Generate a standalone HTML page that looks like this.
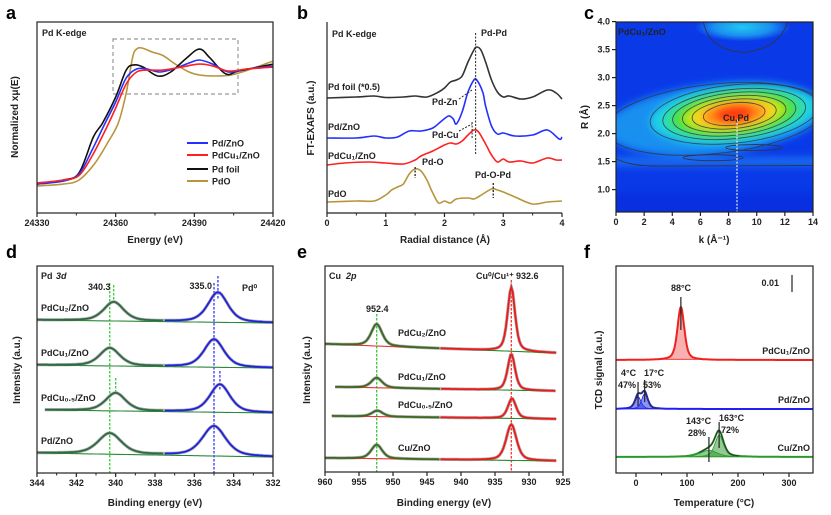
<!DOCTYPE html>
<html><head><meta charset="utf-8">
<style>
body{margin:0;background:#fff;}
svg{display:block;font-family:"Liberation Sans",Arial,sans-serif;font-weight:bold;}
.tk{font-size:9px;fill:#222;}
.tt{font-size:10px;fill:#222;}
.lb{font-size:9px;fill:#222;}
.pl{font-size:18px;fill:#000;}
</style></head>
<body>
<svg id="fig" width="831" height="515" viewBox="0 0 831 515">
<defs>
<filter id="blur" filterUnits="userSpaceOnUse" x="580" y="0" width="260" height="240" color-interpolation-filters="sRGB"><feGaussianBlur stdDeviation="4"/></filter>
<radialGradient id="topgrad"><stop offset="0" stop-color="#22c8f0"/><stop offset="0.6" stop-color="#1a90f0"/><stop offset="1" stop-color="#0a3ae8"/></radialGradient>
<clipPath id="clipc"><rect x="616" y="22" width="197" height="190"/></clipPath>
</defs>
<g id="pa"></g>
<g id="pb"></g>
<g id="pc"></g>
<g id="pd"></g>
<g id="pe"></g>
<g id="pf"></g>

<text class="pl" x="6" y="19">a</text>
<text class="pl" x="297" y="19">b</text>
<text class="pl" x="584" y="19">c</text>
<text class="pl" x="6" y="258">d</text>
<text class="pl" x="297" y="258">e</text>
<text class="pl" x="584" y="258">f</text>

<text class="tt" x="155" y="243" text-anchor="middle">Energy (eV)</text>
<text class="tt" transform="translate(18,117) rotate(-90)" text-anchor="middle">Normalized xμ(E)</text>
<text class="tt" x="445" y="243" text-anchor="middle">Radial distance (Å)</text>
<text class="tt" transform="translate(314,118) rotate(-90)" text-anchor="middle">FT-EXAFS (a.u.)</text>
<text class="tt" x="714" y="243" text-anchor="middle">k (Å⁻¹)</text>
<text class="tt" transform="translate(588,117) rotate(-90)" text-anchor="middle">R (Å)</text>
<text class="tt" x="155" y="506" text-anchor="middle">Binding energy (eV)</text>
<text class="tt" transform="translate(20,370) rotate(-90)" text-anchor="middle">Intensity (a.u.)</text>
<text class="tt" x="444" y="506" text-anchor="middle">Binding energy (eV)</text>
<text class="tt" transform="translate(310,370) rotate(-90)" text-anchor="middle">Intensity (a.u.)</text>
<text class="tt" x="714" y="506" text-anchor="middle">Temperature (°C)</text>
<text class="tt" transform="translate(602,370) rotate(-90)" text-anchor="middle">TCD signal (a.u.)</text>
</svg>

<script>
// ---------- DATA ----------
const aE_foil=[24330,24340,24346,24351.5,24355,24360,24364,24367,24370.5,24376,24381,24387,24392,24396,24402,24407,24420];
const aV_foil=[0.193,0.22,0.267,0.507,0.60,0.773,0.953,0.987,0.973,0.913,0.94,1.033,1.093,1.033,0.927,0.947,0.993];
const aE_pd=[24330,24340,24346,24351,24356,24360,24364,24368,24372,24377,24383,24388,24392,24397,24403,24410,24420];
const aV_pd=[0.193,0.213,0.26,0.42,0.6,0.74,0.9,0.96,0.96,0.94,0.967,1.0,1.02,0.993,0.94,0.96,0.98];
const aE_cu=[24330,24340,24346,24351,24356,24360,24364,24368,24372,24378,24385,24392,24397,24403,24410,24420];
const aV_cu=[0.2,0.22,0.25,0.38,0.55,0.70,0.86,0.94,0.953,0.953,0.973,0.993,0.98,0.947,0.96,0.973];
const aE_pdo=[24330,24340,24346,24352,24357,24361,24364,24366.5,24368,24370,24374,24378,24383,24388,24392,24398,24404,24410,24420];
const aV_pdo=[0.18,0.193,0.22,0.33,0.47,0.6,0.8,1.04,1.093,1.10,1.073,1.05,0.99,0.94,0.92,0.913,0.92,0.95,1.013];
const aTicks=[24330,24360,24390,24420];

const bR_foil=[0,0.5,0.8,1.0,1.3,1.5,1.7,1.9,2.0,2.1,2.2,2.3,2.4,2.5,2.55,2.62,2.7,2.8,2.9,3.0,3.1,3.3,3.5,3.75,3.9,4.0];
const bV_foil=[115,116,117,115.5,116,117,116,121,125,131,133,137,151,163,166,163,151,133,121,116,117,114,116,123,120,114];
const bR_pd=[0,0.5,0.8,1.0,1.2,1.4,1.6,1.8,1.95,2.07,2.15,2.2,2.3,2.4,2.5,2.55,2.65,2.7,2.8,2.9,3.0,3.2,3.5,3.75,3.95,4.0];
const bV_pd=[75,75,77,75,76,82,82,85,92,97,94,89,101,121,133,133,121,107,87,79,80,77,78,83,74,76];
const bR_cu=[0,0.3,0.7,1.0,1.3,1.5,1.6,1.8,2.0,2.1,2.2,2.3,2.4,2.5,2.58,2.7,2.8,2.9,3.0,3.1,3.3,3.5,3.75,3.9,4.0];
const bV_cu=[48,50,51,50,49,53,57,62,68,70,69,72,78,83,81,69,58,51,54,51,52,50,55,53,53];
const bR_pdo=[0,0.5,0.8,1.0,1.1,1.2,1.3,1.4,1.5,1.6,1.7,1.8,1.9,2.0,2.1,2.2,2.4,2.5,2.6,2.8,2.9,3.0,3.2,3.5,3.75,4.0];
const bV_pdo=[11,12,12,18,23,26,29,39,44,42,33,20,10,12,10,14,15,14,17,24,23,21,16,9,11,12];
const bTicks=[0,1,2,3,4];

const cLevels=[0,1,2,3,4,5,6,7];
const cRadK=[7.8,6.0,5.1,4.4,3.7,3.0,2.2,1.3];
const cRadR=[0.62,0.52,0.44,0.38,0.32,0.26,0.2,0.13];
const cColors=['#1890f0','#1ed0e8','#30e0a0','#50e040','#b8e81a','#ffd020','#ff8a18','#ff3a10'];
const cXTicks=[0,2,4,6,8,10,12,14];
const cYTicks=[1.0,1.5,2.0,2.5,3.0,3.5,4.0];

const dNames=['PdCu₂/ZnO','PdCu₁/ZnO','PdCu₀.₅/ZnO','Pd/ZnO'];
const dBaseL=[153,108,63,20];
const dBaseR=[150,105,60,16];
const dStart=[344,344,343.6,344];
const dG_c=[340.1,340.3,340.0,340.3];
const dG_h=[19,18,18,21];
const dB_c=[334.8,335.0,334.7,335.0];
const dB_h=[30,28,28,30];
const dW=[1.2,1.2,1.2,1.4];
const dTicks=[344,342,340,338,336,334,332];

const eNames=['PdCu₂/ZnO','PdCu₁/ZnO','PdCu₀.₅/ZnO','Cu/ZnO'];
const eBaseL=[128,85,56,14];
const eBaseR=[119,81,53,11];
const eStart=[960,958.5,959,960];
const eEnd=[926,926,926,926];
const eG_c=[952.4,952.4,952.3,952.4];
const eG_h=[22,10,6,14];
const eR_c=[932.6,932.6,932.5,932.6];
const eR_h=[64,36,20,36];
const eRw=[1.3,1.3,1.4,1.8];
const eTicks=[960,955,950,945,940,935,930,925];

const fRed_c=[88], fRed_h=[53], fRed_w=[16];
const fBlue_c=[4,17], fBlue_h=[13,16], fBlue_w=[14,14];
const fGreen_c=[143,163], fGreen_h=[7,23], fGreen_w=[40,20];
const fBase=[113,64,16];
const fTicks=[0,100,200,300];

// ---------- HELPERS ----------
const NS='http://www.w3.org/2000/svg';
function mk(parent,tag,attrs,name){
  const el=document.createElementNS(NS,tag);
  for(const k in attrs) el.setAttribute(k,attrs[k]);
  
  
  parent.appendChild(el);
  return el;
}
function txt(parent,x,y,s,name,cls,anchor,fill){
  const t=mk(parent,'text',{x:x,y:y,class:cls||'lb','text-anchor':anchor||'start'},name);
  if(fill) t.setAttribute('fill',fill);
  t.textContent=s;return t;
}
function smooth(pts){
  let d='M'+pts[0][0].toFixed(1)+','+pts[0][1].toFixed(1);
  for(let i=0;i<pts.length-1;i++){
    const p0=pts[Math.max(0,i-1)],p1=pts[i],p2=pts[i+1],p3=pts[Math.min(pts.length-1,i+2)];
    const c1=[p1[0]+(p2[0]-p0[0])/6,p1[1]+(p2[1]-p0[1])/6];
    const c2=[p2[0]-(p3[0]-p1[0])/6,p2[1]-(p3[1]-p1[1])/6];
    d+='C'+c1[0].toFixed(1)+','+c1[1].toFixed(1)+' '+c2[0].toFixed(1)+','+c2[1].toFixed(1)+' '+p2[0].toFixed(1)+','+p2[1].toFixed(1);
  }
  return d;
}
function pv(x,c,h,w){const u=(x-c)/w;return h*(0.5*Math.exp(-4*Math.LN2*u*u)+0.5/(1+4*u*u));}
function line(pts){return 'M'+pts.map(p=>p[0].toFixed(1)+','+p[1].toFixed(1)).join('L');}
function frame(g,x0,y0,x1,y1,name){
  mk(g,'rect',{x:x0,y:y0,width:x1-x0,height:y1-y0,fill:'none',stroke:'#222','stroke-width':1.2},name);
}
function xticks(g,ticks,sx,y,minor,name){
  ticks.forEach(v=>{
    mk(g,'line',{x1:sx(v),x2:sx(v),y1:y,y2:y+4,stroke:'#222','stroke-width':1.2},name+'-tick');
    txt(g,sx(v),y+13,String(v),name+'-tick-label','tk','middle');
  });
  (minor||[]).forEach(v=>{
    mk(g,'line',{x1:sx(v),x2:sx(v),y1:y,y2:y+2.5,stroke:'#222','stroke-width':1},name+'-minor-tick');
  });
}

// ---------- PANEL A ----------
(function(){
  const g=document.getElementById('pa');
  const sx=e=>37+(e-24330)*236/90, sy=v=>213-v*150;
  mk(g,'rect',{x:113,y:39,width:125,height:55,fill:'none',stroke:'#999','stroke-width':1.2,'stroke-dasharray':'4,3'},'zoom-box');
  const ser=[[aE_pdo,aV_pdo,'#b8953a','pdo-curve'],[aE_foil,aV_foil,'#111','pd-foil-curve'],[aE_pd,aV_pd,'#2430ff','pd-zno-curve'],[aE_cu,aV_cu,'#ff2020','pdcu1-zno-curve']];
  ser.forEach(s=>{mk(g,'path',{d:smooth(s[0].map((e,i)=>[sx(e),sy(s[1][i])])),fill:'none',stroke:s[2],'stroke-width':1.6},s[3]);});
  frame(g,37,22,273,213,'plot-frame-a');
  xticks(g,aTicks,sx,213,[24345,24375,24405],'x-axis-a');
  txt(g,42,36,'Pd K-edge','edge-label-a');
  const leg=[['Pd/ZnO','#2430ff',143],['PdCu₁/ZnO','#ff2020',155],['Pd foil','#111',169],['PdO','#b8953a',181]];
  leg.forEach(l=>{
    mk(g,'line',{x1:187,x2:208,y1:l[2],y2:l[2],stroke:l[1],'stroke-width':2},'legend-swatch');
    txt(g,212,l[2]+3.5,l[0],'legend-entry');
  });
})();

// ---------- PANEL B ----------
(function(){
  const g=document.getElementById('pb');
  const sx=r=>327+r*58.75, sy=v=>213-v;
  const ser=[[bR_pdo,bV_pdo,'#b8953a','pdo-ft-curve'],[bR_cu,bV_cu,'#ff2020','pdcu1-ft-curve'],[bR_pd,bV_pd,'#2430ff','pd-zno-ft-curve'],[bR_foil,bV_foil,'#333','pd-foil-ft-curve']];
  ser.forEach(s=>{mk(g,'path',{d:smooth(s[0].map((r,i)=>[sx(r),sy(s[1][i])])),fill:'none',stroke:s[2],'stroke-width':1.6},s[3]);});
  mk(g,'line',{x1:sx(2.53),x2:sx(2.53),y1:33,y2:154,stroke:'#222','stroke-dasharray':'2,1.5','stroke-width':1},'pd-pd-marker');
  mk(g,'line',{x1:sx(1.5),x2:sx(1.5),y1:167,y2:178,stroke:'#222','stroke-dasharray':'2,1.5','stroke-width':1.3},'pd-o-marker');
  mk(g,'line',{x1:sx(2.83),x2:sx(2.83),y1:183,y2:198,stroke:'#222','stroke-dasharray':'2,1.5','stroke-width':1.3},'pd-o-pd-marker');
  mk(g,'line',{x1:459,x2:472,y1:99,y2:90,stroke:'#222','stroke-dasharray':'2,1.5'},'pd-zn-arrow');
  mk(g,'line',{x1:459,x2:472,y1:131,y2:124,stroke:'#222','stroke-dasharray':'2,1.5'},'pd-cu-arrow');
  mk(g,'line',{x1:sx(2.47),x2:sx(2.47),y1:122,y2:138,stroke:'#222','stroke-dasharray':'2,1.5'},'pd-cu-marker');
  mk(g,'line',{x1:327,x2:327,y1:22,y2:213,stroke:'#222','stroke-width':1.2},'y-axis-b');
  mk(g,'line',{x1:327,x2:562,y1:213,y2:213,stroke:'#222','stroke-width':1.2},'x-axis-b');
  xticks(g,bTicks,sx,213,[0.5,1.5,2.5,3.5],'x-axis-b');
  txt(g,332,37,'Pd K-edge','edge-label-b');
  txt(g,481,36,'Pd-Pd','pd-pd-label');
  txt(g,328,90,'Pd foil (*0.5)','pd-foil-label');
  txt(g,432,105,'Pd-Zn','pd-zn-label');
  txt(g,328,130,'Pd/ZnO','pd-zno-label');
  txt(g,432,138,'Pd-Cu','pd-cu-label');
  txt(g,328,159,'PdCu₁/ZnO','pdcu1-label');
  txt(g,422,165,'Pd-O','pd-o-label');
  txt(g,328,197,'PdO','pdo-label');
  txt(g,475,178,'Pd-O-Pd','pd-o-pd-label');
})();

// ---------- PANEL C ----------
(function(){
  const g=document.getElementById('pc');
  const sx=k=>616+k*197/14, sy=r=>212-(r-0.6)*56;
  const inner=mk(g,'g',{'clip-path':'url(#clipc)'},'wavelet-map');
  mk(inner,'rect',{x:600,y:10,width:230,height:220,fill:'#0a3ae8'},'map-background');
  mk(inner,'ellipse',{cx:sx(9),cy:sy(3.9),rx:48,ry:14,fill:'url(#topgrad)'},'top-blob');
  const blur=mk(inner,'g',{filter:'url(#blur)'},'map-fill');
  mk(blur,'rect',{x:590,y:sy(1.58),width:250,height:sy(1.42)-sy(1.58),fill:'#1a6ef0'},'low-band');
  mk(blur,'rect',{x:590,y:sy(0.95),width:250,height:40,fill:'#0830e0'},'bottom-band');
  const cx=sx(8.4), cy=sy(2.35);
  cLevels.forEach(i=>{
    mk(blur,'ellipse',{cx:i===0?sx(7.0):cx,cy:i===0?sy(2.3):cy,rx:cRadK[i]*197/14,ry:cRadR[i]*56,fill:cColors[i],transform:'rotate(-6 '+cx+' '+cy+')'},'contour-fill-'+i);
  });
  cLevels.slice(0,7).forEach(i=>{
    mk(inner,'ellipse',{cx:i===0?sx(7.0):cx,cy:i===0?sy(2.3):cy,rx:cRadK[i]*197/14,ry:cRadR[i]*56,fill:'none',stroke:'#334','stroke-width':0.9,opacity:0.8,transform:'rotate(-6 '+cx+' '+cy+')'},'contour-line-'+i);
  });
  mk(inner,'ellipse',{cx:sx(6.9),cy:sy(1.57),rx:30,ry:3,fill:'none',stroke:'#334','stroke-width':0.9},'contour-small-low');
  mk(inner,'ellipse',{cx:sx(9.8),cy:sy(1.75),rx:28,ry:3,fill:'none',stroke:'#334','stroke-width':0.9},'contour-small-mid');
  mk(inner,'path',{d:'M'+sx(0)+','+sy(1.55)+' Q'+sx(1)+','+sy(1.42)+' '+sx(3)+','+sy(1.42)+' L'+sx(14)+','+sy(1.43),fill:'none',stroke:'#334','stroke-width':0.9},'contour-low');
  mk(inner,'path',{d:'M'+sx(6.2)+','+sy(4.0)+' Q'+sx(6.6)+','+sy(3.5)+' '+sx(9)+','+sy(3.45)+' Q'+sx(11.6)+','+sy(3.5)+' '+sx(12.2)+','+sy(4.0),fill:'none',stroke:'#334','stroke-width':0.9},'contour-top');
  mk(inner,'line',{x1:sx(8.6),x2:sx(8.6),y1:sy(2.25),y2:212,stroke:'#eee','stroke-width':1.2,'stroke-dasharray':'2,1.5'},'cu-pd-marker');
  frame(g,616,22,813,212,'plot-frame-c');
  xticks(g,cXTicks,sx,212,[],'x-axis-c');
  cYTicks.forEach(v=>{
    mk(g,'line',{x1:612,x2:616,y1:sy(v),y2:sy(v),stroke:'#222','stroke-width':1.2},'y-axis-c-tick');
    txt(g,610,sy(v)+3,v.toFixed(1),'y-axis-c-tick-label','tk','end');
  });
  txt(g,618,35,'PdCu₁/ZnO','sample-label-c','lb','start','#fff');
  txt(g,723,121,'Cu,Pd','cu-pd-label','lb','start','#fff');
})();

// ---------- PANEL D ----------
(function(){
  const g=document.getElementById('pd');
  const sx=e=>37+(344-e)*236/12, sy=v=>473-v;
  mk(g,'line',{x1:sx(340.3),x2:sx(340.3),y1:283,y2:473,stroke:'#3c3','stroke-width':1.3,'stroke-dasharray':'2.5,1.5'},'green-ref-line');
  mk(g,'line',{x1:sx(335.0),x2:sx(335.0),y1:283,y2:473,stroke:'#33f','stroke-width':1.3,'stroke-dasharray':'2.5,1.5'},'blue-ref-line');
  mk(g,'line',{x1:sx(340.1),x2:sx(340.1),y1:285,y2:300,stroke:'#3c3','stroke-width':1.3,'stroke-dasharray':'2.5,1.5'},'green-shift-line-1');
  mk(g,'line',{x1:sx(334.8),x2:sx(334.8),y1:276,y2:300,stroke:'#33f','stroke-width':1.3,'stroke-dasharray':'2.5,1.5'},'blue-shift-line-1');
  mk(g,'line',{x1:sx(340.0),x2:sx(340.0),y1:378,y2:393,stroke:'#3c3','stroke-width':1.3,'stroke-dasharray':'2.5,1.5'},'green-shift-line-2');
  mk(g,'line',{x1:sx(334.7),x2:sx(334.7),y1:371,y2:390,stroke:'#33f','stroke-width':1.3,'stroke-dasharray':'2.5,1.5'},'blue-shift-line-2');
  dNames.forEach((n,i)=>{
    const base=e=>dBaseL[i]+(dBaseR[i]-dBaseL[i])*(dStart[i]-e)/(dStart[i]-332);
    const env=[],bl=[];
    for(let e=dStart[i];e>=331.999;e-=0.1){
      const v=base(e)+pv(e,dG_c[i],dG_h[i],dW[i])+pv(e,dB_c[i],dB_h[i],dW[i]);
      env.push([sx(e),sy(v),e]);bl.push([sx(e),sy(base(e))]);
    }
    mk(g,'path',{d:line(env),fill:'none',stroke:'#999','stroke-width':3.2,opacity:0.8},'raw-data-d-'+i);
    mk(g,'path',{d:line(bl),fill:'none',stroke:'#2a8a3a','stroke-width':1.1},'background-d-'+i);
    mk(g,'path',{d:line(env.filter(p=>p[2]>=337.5)),fill:'none',stroke:'#2f6a45','stroke-width':1.8},'pd3d32-fit-'+i);
    mk(g,'path',{d:line(env.filter(p=>p[2]<=337.5)),fill:'none',stroke:'#2020e0','stroke-width':1.8},'pd3d52-fit-'+i);
    txt(g,41,sy(dBaseL[i])-9,n,'sample-label-d-'+i);
  });
  frame(g,37,266,273,473,'plot-frame-d');
  xticks(g,dTicks,sx,473,[343,341,339,337,335,333],'x-axis-d');
  txt(g,41,279,'Pd ','core-label-d');
  mk(g,'text',{x:56,y:279,class:'lb','font-style':'italic'},'core-label-d-italic').textContent='3d';
  txt(g,88,290,'340.3','peak-label-340');
  txt(g,sx(335)-2,289,'335.0','peak-label-335','lb','end');
  txt(g,242,291,'Pd⁰','pd0-label');
})();

// ---------- PANEL E ----------
(function(){
  const g=document.getElementById('pe');
  const sx=e=>325+(960-e)*238/35, sy=v=>472-v;
  mk(g,'line',{x1:sx(952.4),x2:sx(952.4),y1:314,y2:472,stroke:'#3c3','stroke-width':1.3,'stroke-dasharray':'2.5,1.5'},'green-ref-line-e');
  mk(g,'line',{x1:sx(932.6),x2:sx(932.6),y1:280,y2:472,stroke:'#f33','stroke-width':1.3,'stroke-dasharray':'2.5,1.5'},'red-ref-line-e');
  eNames.forEach((n,i)=>{
    const base=e=>eBaseL[i]+(eBaseR[i]-eBaseL[i])*(eStart[i]-e)/(eStart[i]-eEnd[i]);
    const env=[],bl=[];
    for(let e=eStart[i];e>=eEnd[i]-0.001;e-=0.2){
      const v=base(e)+pv(e,eG_c[i],eG_h[i],1.9)+pv(e,eR_c[i],eR_h[i],eRw[i]);
      env.push([sx(e),sy(v),e]);bl.push([sx(e),sy(base(e)),e]);
    }
    mk(g,'path',{d:line(env),fill:'none',stroke:'#999','stroke-width':3.2,opacity:0.8},'raw-data-e-'+i);
    mk(g,'path',{d:line(bl.filter(p=>p[2]>=943)),fill:'none',stroke:'#e33','stroke-width':1.1},'background-e-left-'+i);
    mk(g,'path',{d:line(bl.filter(p=>p[2]<=943)),fill:'none',stroke:'#2a8a2a','stroke-width':1.1},'background-e-right-'+i);
    mk(g,'path',{d:line(env.filter(p=>p[2]>=943)),fill:'none',stroke:'#3a6a20','stroke-width':1.8},'cu2p12-fit-'+i);
    mk(g,'path',{d:line(env.filter(p=>p[2]<=943)),fill:'none',stroke:'#f01818','stroke-width':1.8},'cu2p32-fit-'+i);
  });
  const ly=[336,380,408,451];
  eNames.forEach((n,i)=>txt(g,398,ly[i],n,'sample-label-e-'+i));
  frame(g,325,266,563,472,'plot-frame-e');
  xticks(g,eTicks,sx,472,[],'x-axis-e');
  txt(g,329,279,'Cu ','core-label-e');
  mk(g,'text',{x:346,y:279,class:'lb','font-style':'italic'},'core-label-e-italic').textContent='2p';
  txt(g,366,312,'952.4','peak-label-952');
  txt(g,476,279,'Cu⁰/Cu¹⁺','cu-state-label');
  txt(g,516,279,'932.6','peak-label-932');
})();

// ---------- PANEL F ----------
(function(){
  const g=document.getElementById('pf');
  const sx=t=>636+t*0.51, sy=v=>473-v;
  const sets=[[fRed_c,fRed_h,fRed_w,fBase[0],'#f02020','rgba(240,80,80,0.45)','red'],[fBlue_c,fBlue_h,fBlue_w,fBase[1],'#2020f0','rgba(40,60,230,0.55)','blue'],[fGreen_c,fGreen_h,fGreen_w,fBase[2],'#2a9a2a','rgba(40,150,40,0.5)','green']];
  sets.forEach(s=>{
    const [cs,hs,ws,b,col,fill,nm]=s;
    cs.forEach((c,j)=>{
      const pts=[];for(let t=c-3*ws[j];t<=c+3*ws[j];t+=1)pts.push([sx(t),sy(b+pv(t,c,hs[j],ws[j])*0.95)]);
      mk(g,'path',{d:line(pts)+'Z',fill:fill,stroke:col,'stroke-width':0.8},nm+'-peak-'+j);
    });
    const env=[];for(let t=-39;t<=347;t+=1){let v=b;cs.forEach((c,j)=>{v+=pv(t,c,hs[j],ws[j]);});env.push([sx(t),sy(v)]);}
    mk(g,'path',{d:line(env),fill:'none',stroke:col,'stroke-width':2},nm+'-baseline-curve');
    if(cs.length>1) mk(g,'path',{d:line(env.filter(p=>Math.abs(p[0]-sx(cs[1]))<sx(2*ws[1])-sx(0))),fill:'none',stroke:'#333','stroke-width':1},nm+'-envelope');
  });
  mk(g,'line',{x1:sx(88),x2:sx(88),y1:297,y2:330,stroke:'#222','stroke-width':1.2},'peak-marker-88');
  mk(g,'line',{x1:sx(4),x2:sx(4),y1:382,y2:406,stroke:'#222','stroke-width':1.2},'peak-marker-4');
  mk(g,'line',{x1:sx(17),x2:sx(17),y1:380,y2:402,stroke:'#222','stroke-width':1.2},'peak-marker-17');
  mk(g,'line',{x1:sx(143),x2:sx(143),y1:437,y2:462,stroke:'#222','stroke-width':1.2},'peak-marker-143');
  mk(g,'line',{x1:sx(163),x2:sx(163),y1:422,y2:448,stroke:'#222','stroke-width':1.2},'peak-marker-163');
  mk(g,'line',{x1:792,x2:792,y1:275,y2:292,stroke:'#222','stroke-width':1.2},'scale-bar');
  txt(g,779,286,'0.01','scale-bar-label','lb','end');
  txt(g,681,291,'88°C','label-88','lb','middle');
  txt(g,621,376,'4°C','label-4');
  txt(g,618,388,'47%','label-47');
  txt(g,644,376,'17°C','label-17');
  txt(g,643,388,'53%','label-53');
  txt(g,686,424,'143°C','label-143');
  txt(g,688,436,'28%','label-28');
  txt(g,719,421,'163°C','label-163');
  txt(g,721,433,'72%','label-72');
  txt(g,810,354,'PdCu₁/ZnO','sample-label-f-0','lb','end');
  txt(g,810,403,'Pd/ZnO','sample-label-f-1','lb','end');
  txt(g,810,451,'Cu/ZnO','sample-label-f-2','lb','end');
  frame(g,616,266,813,473,'plot-frame-f');
  xticks(g,fTicks,sx,473,[50,150,250],'x-axis-f');
})();
</script>
</body></html>
